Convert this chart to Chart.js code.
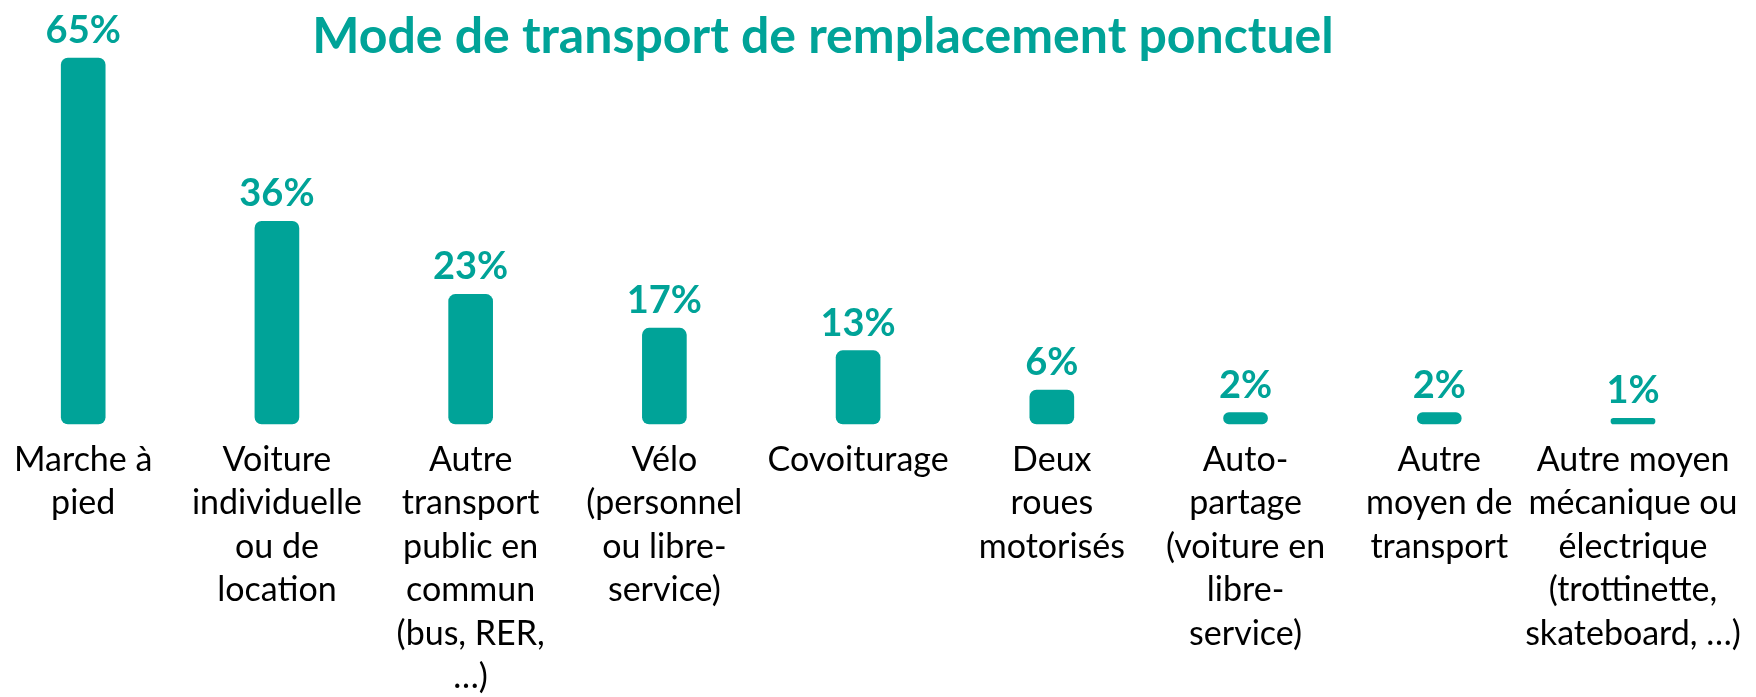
<!DOCTYPE html>
<html>
<head>
  <title>Mode de transport de remplacement ponctuel</title>
  <script src="https://cdn.jsdelivr.net/npm/chart.js"></script>
  <style>
    body {
      margin: 0;
      background: #ffffff;
    }
    canvas {
      display: block;
    }
  </style>
</head>
<body>
  <canvas id="modeChart" width="1756" height="697"></canvas>

  <script>
    // categories, one array of lines per label
    const categories = [
      ['Marche à', 'pied'],
      ['Voiture', 'individuelle', 'ou de', 'location'],
      ['Autre', 'transport', 'public en', 'commun', '(bus, RER,', '…)'],
      ['Vélo', '(personnel', 'ou libre-', 'service)'],
      ['Covoiturage'],
      ['Deux', 'roues', 'motorisés'],
      ['Auto-', 'partage', '(voiture en', 'libre-', 'service)'],
      ['Autre', 'moyen de', 'transport'],
      ['Autre moyen', 'mécanique ou', 'électrique', '(trottinette,', 'skateboard, …)']
    ];
    const shares = [65, 36, 23, 17, 13, 6, 2, 2, 1];

    const teal = '#00a398';
    const titleText = 'Mode de transport de remplacement ponctuel';

    // title + percentage labels drawn on the canvas
    const annotate = {
      id: 'annotate',
      afterDatasetsDraw(chart) {
        const ctx = chart.ctx;
        ctx.save();
        ctx.fillStyle = teal;
        ctx.textAlign = 'center';
        ctx.textBaseline = 'alphabetic';

        // title sized to the reference width
        ctx.font = 'bold 100px Lato';
        const w = ctx.measureText(titleText).width;
        const size = 100 * 1021 / w;
        ctx.font = 'bold ' + size.toFixed(1) + 'px Lato';
        ctx.fillText(titleText, 823, 53);

        ctx.font = 'bold 38px Lato';
        chart.getDatasetMeta(0).data.forEach((bar, i) => {
          ctx.fillText(shares[i] + '%', bar.x, bar.y - 15);
        });
        ctx.restore();
      }
    };

    const ctx = document.getElementById('modeChart').getContext('2d');
    new Chart(ctx, {
      type: 'bar',
      data: {
        labels: categories,
        datasets: [{
          data: shares,
          backgroundColor: teal,
          barThickness: 44,
          borderRadius: 7,
          borderSkipped: false,
          clip: false
        }]
      },
      options: {
        responsive: false,
        animation: false,
        layout: {
          padding: { left: 72, right: 123, top: 58, bottom: -16 }
        },
        plugins: {
          legend: { display: false },
          tooltip: { enabled: false }
        },
        scales: {
          x: {
            offset: false,
            grid: { display: false, drawTicks: false },
            border: { display: false },
            ticks: {
              padding: 14,
              maxRotation: 0,
              autoSkip: false,
              color: '#000000',
              font: { family: 'Lato', size: 34, lineHeight: 1.28 }
            }
          },
          y: {
            display: false,
            min: 0,
            max: 65
          }
        }
      },
      plugins: [annotate]
    });
  </script>
</body>
</html>
